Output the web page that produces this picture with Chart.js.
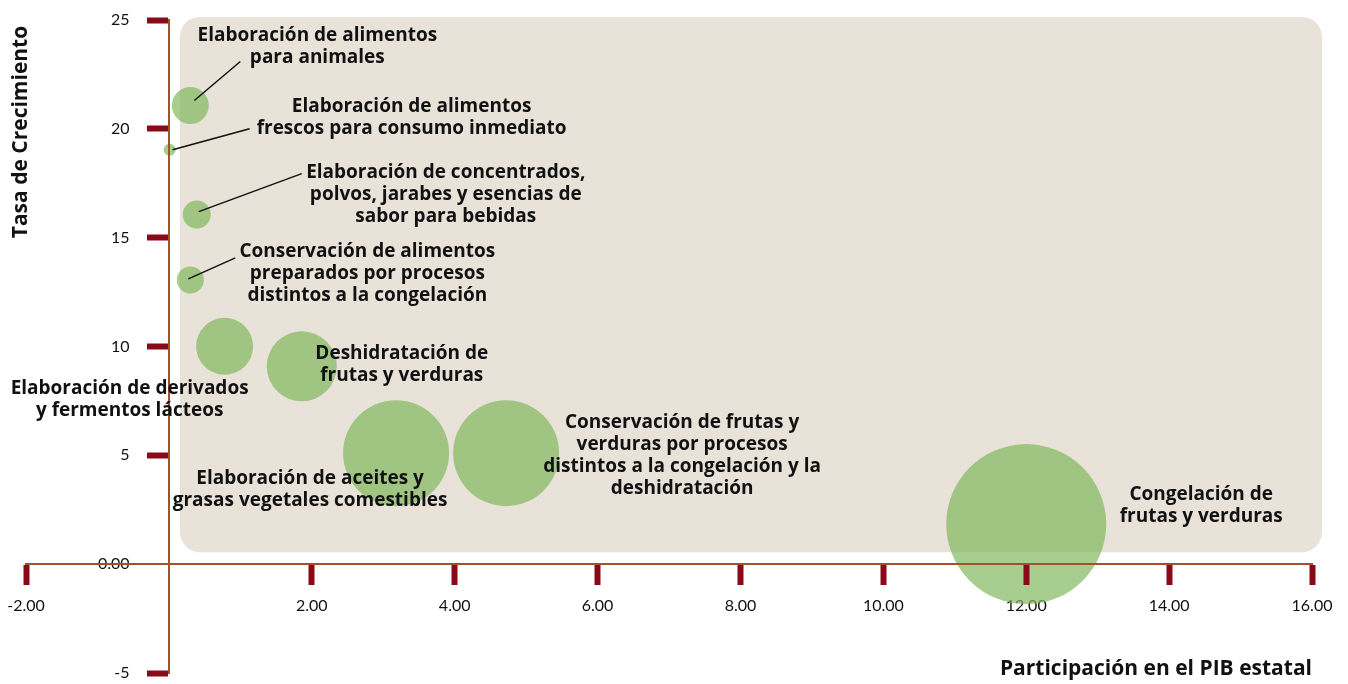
<!DOCTYPE html>
<html lang="es">
<head>
<meta charset="utf-8">
<title>Tasa de crecimiento vs participación en el PIB</title>
<script src="https://cdn.jsdelivr.net/npm/chart.js@4.4.1/dist/chart.umd.min.js"></script>
<style>
  html, body { margin: 0; padding: 0; background: #fff; }
  #contenedor { width: 1348px; height: 684px; position: relative; }
</style>
</head>
<body>
<div id="contenedor"><canvas id="grafico"></canvas></div>
<script>
// Ramas de la industria alimentaria
const ramas = [
  "Elaboración de alimentos para animales",
  "Elaboración de alimentos frescos para consumo inmediato",
  "Elaboración de concentrados, polvos, jarabes y esencias de sabor para bebidas",
  "Conservación de alimentos preparados por procesos distintos a la congelación",
  "Elaboración de derivados y fermentos lácteos",
  "Deshidratación de frutas y verduras",
  "Elaboración de aceites y grasas vegetales comestibles",
  "Conservación de frutas y verduras por procesos distintos a la congelación y la deshidratación",
  "Congelación de frutas y verduras"
];
// Participación en el PIB estatal (%)
const participacion = [0.30, 0.01, 0.39, 0.30, 0.78, 1.86, 3.18, 4.72, 12.00];
// Tasa de crecimiento (%)
const crecimiento = [21.07, 19.04, 16.06, 13.06, 10.01, 9.09, 5.10, 5.10, 1.84];
// Tamaño de la burbuja
const tamanos = [18.5, 6, 14, 13.5, 28.5, 35, 53, 53, 80];

const ticksX = [-2, 0, 2, 4, 6, 8, 10, 12, 14, 16];
const ticksY = [-5, 0, 5, 10, 15, 20, 25];

// Texto de cada etiqueta (líneas) y su colocación respecto a la burbuja
const etiquetas = [
  { lineas: ["Elaboración de alimentos", "para animales"], dx: 127, dy: -70, guia: [4, -5, 50, -44] },
  { lineas: ["Elaboración de alimentos", "frescos para consumo inmediato"], dx: 242, dy: -43, guia: [3, 0, 80, -21] },
  { lineas: ["Elaboración de concentrados,", "polvos, jarabes y esencias de", "sabor para bebidas"], dx: 249, dy: -42, guia: [2, -3, 105, -41] },
  { lineas: ["Conservación de alimentos", "preparados por procesos", "distintos a la congelación"], dx: 177, dy: -28, guia: [-2, -1, 45, -22] },
  { lineas: ["Elaboración de derivados", "y fermentos lácteos"], dx: -95, dy: 42 },
  { lineas: ["Deshidratación de", "frutas y verduras"], dx: 100, dy: -13 },
  { lineas: ["Elaboración de aceites y", "grasas vegetales comestibles"], dx: -86, dy: 25 },
  { lineas: ["Conservación de frutas y", "verduras por procesos", "distintos a la congelación y la", "deshidratación"], dx: 176, dy: -31 },
  { lineas: ["Congelación de", "frutas y verduras"], dx: 175, dy: -30 }
];

const puntos = participacion.map((x, i) => ({ x: x, y: crecimiento[i], r: tamanos[i] }));

const rojo = "#8b0a1a";
const cafe = "#a0522d";
const marca = (c) => (c.tick && c.tick.value === 0 ? "rgba(0,0,0,0)" : rojo);
const sinEspacioX = (s) => { s.height = 0; s.paddingLeft = 0; s.paddingRight = 0; s.paddingTop = 0; s.paddingBottom = 0; };
const sinEspacioY = (s) => { s.width = 0; s.paddingLeft = 0; s.paddingRight = 0; s.paddingTop = 0; s.paddingBottom = 0; };

const fondo = {
  id: "fondo",
  beforeDraw(chart) {
    const { ctx, scales } = chart;
    const x0 = scales.x.getPixelForValue(0) + 11;
    const x1 = scales.x.getPixelForValue(16) + 10;
    const y0 = scales.y.getPixelForValue(25) - 3;
    const y1 = scales.y.getPixelForValue(0) - 12;
    ctx.save();
    ctx.fillStyle = "#e8e2d8";
    ctx.beginPath();
    ctx.roundRect(x0, y0, x1 - x0, y1 - y0, 20);
    ctx.fill();
    ctx.restore();
  }
};

const rotulos = {
  id: "rotulos",
  afterDraw(chart) {
    const { ctx } = chart;
    const meta = chart.getDatasetMeta(0);
    ctx.save();
    ctx.fillStyle = "#111";
    ctx.strokeStyle = "#111";
    ctx.lineWidth = 1.5;
    ctx.font = "bold 19px 'Open Sans'";
    ctx.textAlign = "center";
    ctx.textBaseline = "middle";
    etiquetas.forEach((et, i) => {
      const p = meta.data[i];
      if (et.guia) {
        ctx.beginPath();
        ctx.moveTo(p.x + et.guia[0], p.y + et.guia[1]);
        ctx.lineTo(p.x + et.guia[2], p.y + et.guia[3]);
        ctx.stroke();
      }
      et.lineas.forEach((t, k) => {
        ctx.fillText(t, p.x + et.dx, p.y + et.dy + k * 22);
      });
    });
    // títulos de los ejes
    ctx.font = "bold 21px 'Open Sans'";
    ctx.textAlign = "right";
    ctx.fillText("Participación en el PIB estatal", chart.scales.x.getPixelForValue(16), 669);
    ctx.translate(21, 132);
    ctx.rotate(-Math.PI / 2);
    ctx.textAlign = "center";
    ctx.fillText("Tasa de Crecimiento", 0, 0);
    ctx.restore();
  }
};

const grafico = new Chart(document.getElementById("grafico"), {
  type: "bubble",
  data: {
    datasets: [{
      label: "Ramas",
      data: puntos,
      backgroundColor: "rgba(130, 185, 95, 0.7)",
      borderWidth: 0,
      hoverBorderWidth: 0,
      clip: false
    }]
  },
  options: {
    responsive: true,
    maintainAspectRatio: false,
    animation: false,
    layout: { padding: { left: 26, right: 36, top: 20, bottom: 11 } },
    plugins: {
      legend: { display: false },
      tooltip: { enabled: false }
    },
    scales: {
      x: {
        type: "linear",
        position: { y: 0 },
        min: -2,
        max: 16,
        afterBuildTicks: (s) => { s.ticks = ticksX.map((v) => ({ value: v })); },
        afterFit: sinEspacioX,
        border: { display: true, color: cafe, width: 2, z: 2 },
        grid: {
          z: 1,
          drawOnChartArea: false,
          drawTicks: true,
          tickLength: 20,
          tickWidth: 6,
          tickColor: marca
        },
        ticks: {
          color: "#111",
          font: { family: "Lato", size: 16 },
          padding: 12,
          maxRotation: 0,
          callback: (v) => (v === 0 ? "" : v.toFixed(2))
        }
      },
      y: {
        type: "linear",
        position: { x: 0 },
        min: -5,
        max: 25,
        afterBuildTicks: (s) => { s.ticks = ticksY.map((v) => ({ value: v })); },
        afterFit: sinEspacioY,
        border: { display: true, color: cafe, width: 2, z: 2 },
        grid: {
          z: 1,
          drawOnChartArea: false,
          drawTicks: true,
          tickLength: 21,
          tickWidth: 6,
          tickColor: marca
        },
        ticks: { display: false }
      },
      // eje auxiliar solo para los rótulos del eje vertical
      yRotulos: {
        type: "linear",
        position: { x: -0.55 },
        min: -5,
        max: 25,
        afterBuildTicks: (s) => { s.ticks = ticksY.map((v) => ({ value: v })); },
        afterFit: sinEspacioY,
        border: { display: false },
        grid: { display: false },
        ticks: {
          color: "#111",
          font: { family: "Lato", size: 16 },
          callback: (v) => (v === 0 ? "0.00" : String(v))
        }
      }
    }
  },
  plugins: [fondo, rotulos]
});

// las burbujas no deben reservar margen alrededor del área del gráfico
grafico.getDatasetMeta(0).controller.getMaxOverflow = () => 0;
grafico.update();
</script>
</body>
</html>
